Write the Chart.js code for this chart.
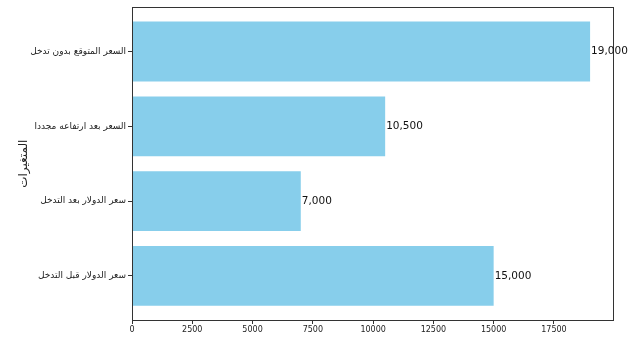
<!DOCTYPE html>
<html><head><meta charset="utf-8">
<script src="https://cdn.jsdelivr.net/npm/chart.js@4.4.1/dist/chart.umd.min.js"></script>
<style>html,body{margin:0;padding:0;background:#fff;}#wrap{width:635px;height:353px;}</style>
</head><body><div id="wrap"><canvas id="c" width="635" height="353"></canvas></div>
<script>
const categories = ["سعر الدولار قبل التدخل", "سعر الدولار بعد التدخل", "السعر بعد ارتفاعه مجددا", "السعر المتوقع بدون تدخل"];
const values = [15000, 7000, 10500, 19000];
const xTicks = [0, 2500, 5000, 7500, 10000, 12500, 15000, 17500];
const yTitle = "المتغيرات";

const points = categories.map((c, i) => ({x: values[i], y: i}));

const framePlugin = {
  id: 'frame',
  afterDraw(chart) {
    const {ctx, chartArea: a} = chart;
    ctx.save();
    ctx.strokeStyle = '#333';
    ctx.lineWidth = 1;
    ctx.strokeRect(Math.round(a.left) + 0.5, Math.round(a.top) + 0.5, Math.round(a.right - a.left), Math.round(a.bottom - a.top));
    const xs = chart.scales.x, ys = chart.scales.y;
    ctx.fillStyle = '#111';
    ctx.font = '10.5px "DejaVu Sans"';
    ctx.textAlign = 'left';
    ctx.textBaseline = 'middle';
    values.forEach((v, i) => {
      const s = v.toLocaleString('en-US');
      ctx.fillText(s, xs.getPixelForValue(v) + 1, ys.getPixelForValue(i));
    });
    ctx.restore();
  }
};

new Chart(document.getElementById('c'), {
  type: 'bar',
  data: {
    datasets: [{
      data: points,
      backgroundColor: '#87CEEB',
      borderWidth: 0,
      barPercentage: 0.8,
      categoryPercentage: 1.0
    }]
  },
  options: {
    indexAxis: 'y',
    responsive: false,
    animation: false,
    events: [],
    layout: {padding: {top: 6, right: 22, left: 0, bottom: 0}},
    plugins: {legend: {display: false}, tooltip: {enabled: false}},
    scales: {
      x: {
        type: 'linear',
        min: 0,
        max: 19950,
        afterBuildTicks: (s) => { s.ticks = xTicks.map(v => ({value: v})); },
        afterFit: (s) => { s.height = 33; },
        grid: {drawOnChartArea: false, drawTicks: true, tickLength: 4, color: '#333'},
        border: {display: true, color: '#333'},
        ticks: {font: {family: 'DejaVu Sans', size: 8}, color: '#222', padding: 1, maxRotation: 0,
                callback: (v) => String(v)}
      },
      y: {
        type: 'linear',
        offset: false,
        min: -0.59,
        max: 3.59,
        afterBuildTicks: (s) => { s.ticks = categories.map((c, i) => ({value: i})); },
        afterFit: (s) => { s.width = 132; },
        grid: {offset: false, drawOnChartArea: false, drawTicks: true, tickLength: 4, color: '#333'},
        border: {display: true, color: '#333'},
        ticks: {font: {family: 'DejaVu Sans', size: 9}, color: '#222', padding: 2,
                callback: (v) => categories[v] !== undefined ? categories[v] : ''},
        title: {display: true, text: yTitle, font: {family: 'DejaVu Sans', size: 12}, color: '#222', padding: {top: 17, bottom: 0}}
      }
    }
  },
  plugins: [framePlugin]
});
</script>
</body></html>
